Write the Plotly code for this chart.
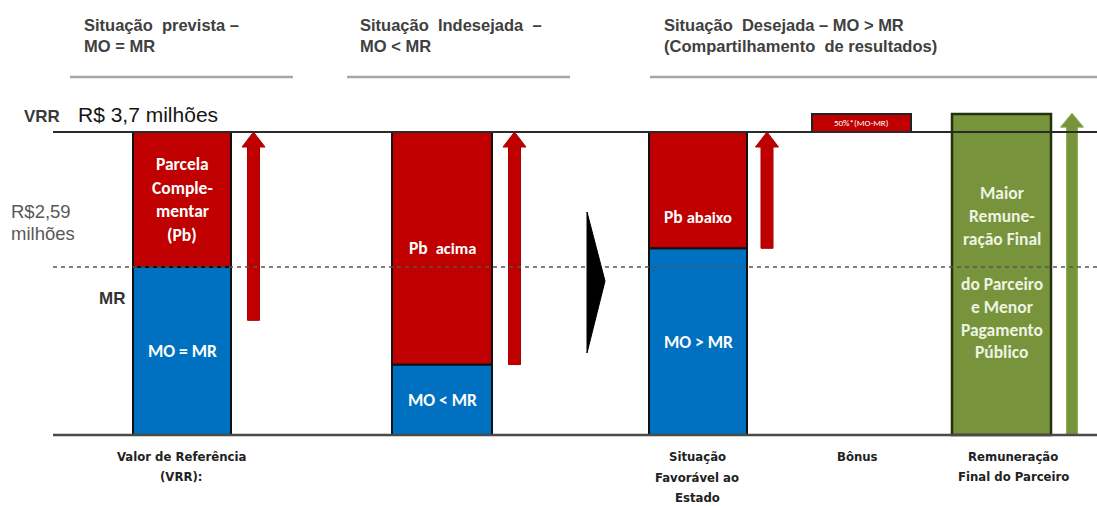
import plotly.graph_objects as go

# ---- values (R$ milhões) ----
vrr_value = 3.7                      # Valor de Referência (VRR)
mr_level = 2.05                      # nível MR (linha tracejada)
mr_label_value = 2.59
mo_values = [2.05, 0.86, 2.28]       # parcela MO (azul)
pb_values = [1.65, 2.84, 1.42]       # parcela complementar Pb (vermelho)
bonus_value = 0.22
final_value = 3.92                   # remuneração final do parceiro
red_arrow_start = [1.40, 0.86, 2.28]
green_arrow_top = 3.93

mo_labels = ["MO = MR", "MO < MR", "MO > MR"]
pb_labels = [
    ["Parcela", "Comple-", "mentar", "(Pb)"],
    ["Pb&nbsp; <span style='font-size:16.5px'>acima</span>"],
    ["Pb <span style='font-size:16.5px'>abaixo</span>"],
]
final_label = ["Maior", "Remune-", "ração Final", "", "do Parceiro", "e Menor", "Pagamento", "Público"]
bottom_labels = [
    ["Valor de Referência", "(VRR):"],
    [],
    ["Situação", "Favorável ao", "Estado"],
    ["Bônus"],
    ["Remuneração", "Final do Parceiro"],
]
headers = [
    ["Situação&nbsp; prevista –", "MO = MR"],
    ["Situação&nbsp; Indesejada&nbsp; –", "MO < MR"],
    ["Situação&nbsp; Desejada – MO > MR", "(Compartilhamento&nbsp; de resultados)"],
]

# ---- geometry ----
W, H = 1097, 506
BASE_PX, VRR_PX = 435, 132
upp = vrr_value / (BASE_PX - VRR_PX)          # data units per pixel
y_range = [-(H - BASE_PX) * upp, vrr_value + VRR_PX * upp]

bar_x = [182, 442, 698, 861.5, 1001.5]
bar_w = [98, 100, 98, 99, 99]
arrow_x = [253.5, 514.5, 767]
green_arrow_x = 1072
header_x = [82, 358, 662]
bottom_x = [181, 442, 697, 857, 1013]

RED, BLUE, GREEN = "#C00000", "#0070C0", "#77933C"
BAR_FONT = "Carlito, Lato, 'Open Sans', sans-serif"
HEAD_FONT = "'Liberation Sans', Arial, sans-serif"
NARROW_FONT = "'Liberation Sans Narrow', 'Arial Narrow', 'DejaVu Sans Condensed', sans-serif"


def py(px):
    return 1 - px / H


fig = go.Figure()

fig.add_trace(go.Bar(
    x=bar_x[:3], y=mo_values, base=[0, 0, 0], width=bar_w[:3],
    marker=dict(color=BLUE, line=dict(color="#111", width=2)), hoverinfo="skip"))
fig.add_trace(go.Bar(
    x=bar_x[:3], y=pb_values, base=mo_values, width=bar_w[:3],
    marker=dict(color=RED, line=dict(color="#111", width=2)), hoverinfo="skip"))
fig.add_trace(go.Bar(
    x=[bar_x[3]], y=[bonus_value], base=[vrr_value], width=[bar_w[3]],
    marker=dict(color=RED, line=dict(color="#222", width=2)), hoverinfo="skip"))
fig.add_trace(go.Bar(
    x=[bar_x[4]], y=[final_value], base=[0], width=[bar_w[4]],
    marker=dict(color=GREEN, line=dict(color="#26300f", width=2.5)), hoverinfo="skip"))


def arrow_path(xc, y0, y1, shaft_px, head_w_px, head_h_px):
    hs, hw, hh = shaft_px / 2, head_w_px / 2, head_h_px * upp
    return (f"M {xc - hs},{y0} L {xc + hs},{y0} L {xc + hs},{y1 - hh} "
            f"L {xc + hw},{y1 - hh} L {xc},{y1} L {xc - hw},{y1 - hh} "
            f"L {xc - hs},{y1 - hh} Z")


shapes = []
for xc, y0 in zip(arrow_x, red_arrow_start):
    shapes.append(dict(type="path", xref="x", yref="y", layer="above",
                       path=arrow_path(xc, y0, vrr_value, 12, 23, 15),
                       fillcolor=RED, line=dict(color="#a80000", width=1)))
shapes.append(dict(type="path", xref="x", yref="y", layer="above",
                   path=arrow_path(green_arrow_x, 0, green_arrow_top, 11, 23, 14),
                   fillcolor=GREEN, line=dict(color="#8fae55", width=1)))

# reference lines
shapes.append(dict(type="line", xref="x", yref="y", layer="above",
                   x0=53, x1=W, y0=vrr_value, y1=vrr_value,
                   line=dict(color="#2a2a2a", width=2)))
shapes.append(dict(type="line", xref="x", yref="y", layer="above",
                   x0=53, x1=W, y0=0, y1=0,
                   line=dict(color="#4a4a4a", width=2.5)))
shapes.append(dict(type="line", xref="x", yref="y", layer="above",
                   x0=53, x1=W, y0=mr_level, y1=mr_level,
                   line=dict(color="#555", width=1.5, dash="4px,4px")))

# header rules
for x0, x1 in [(70, 293), (347, 570), (650, W)]:
    shapes.append(dict(type="line", xref="x", yref="paper", x0=x0, x1=x1,
                       y0=py(77), y1=py(77), line=dict(color="#A6A6A6", width=2.5)))

# transition marker
shapes.append(dict(type="path", xref="x", yref="paper", layer="above",
                   path=f"M 587,{py(212)} L 605,{py(281)} L 587,{py(353)} Z",
                   fillcolor="#000", line=dict(color="#000", width=1)))

ann = []


def text_px(lines, x, y_center, size, color, family, bold=False,
            spacing=22, xanchor="center"):
    n = len(lines)
    for i, t in enumerate(lines):
        if not t:
            continue
        yc = y_center + (i - (n - 1) / 2) * spacing
        ann.append(dict(text=f"<b>{t}</b>" if bold else t, x=x, y=py(yc),
                        xref="x", yref="paper", xanchor=xanchor, yanchor="middle",
                        showarrow=False, font=dict(size=size, color=color, family=family)))


def text_data(lines, x, y_val, size, color, family, bold=True, spacing=22.5,
              xanchor="center"):
    text_px(lines, x, BASE_PX - y_val / upp, size, color, family, bold, spacing, xanchor)


# headers
for hx, lines in zip(header_x, headers):
    text_px(lines, hx, 35.5, 16.5, "#404040", HEAD_FONT, bold=True, spacing=21, xanchor="left")

# left-side labels
text_px(["VRR"], 22, 116, 17, "#3a3a3a", HEAD_FONT, bold=True, xanchor="left")
text_px(["R$ 3,7 milhões"], 76, 114, 21, "#151515", HEAD_FONT, xanchor="left")
text_data(["R$2,59", "milhões"], 9, mr_label_value, 18.5, "#595959", HEAD_FONT,
          bold=False, spacing=22, xanchor="left")
text_px(["MR"], 97, 298, 17, "#333", HEAD_FONT, bold=True, xanchor="left")

# bar labels
for i in range(3):
    text_data([mo_labels[i]], bar_x[i], mo_values[i] / 2, 17.5, "#ffffff", BAR_FONT)
pb_frac = [0.5, 0.5, 0.27]
for i in range(3):
    text_data(pb_labels[i], bar_x[i], mo_values[i] + pb_values[i] * pb_frac[i],
              17.5, "#ffffff", BAR_FONT, spacing=23.5)
text_data(["50%*(MO-MR)"], bar_x[3], vrr_value + bonus_value / 2, 9, "#ffffff", BAR_FONT, bold=False)
text_data(final_label, bar_x[4], final_value / 2 + 0.02, 17.5, "#EEF3E2", BAR_FONT, spacing=22.7)

# bottom labels
for bx, lines in zip(bottom_x, bottom_labels):
    if lines:
        text_px(lines, bx, 456 + (len(lines) - 1) * 10.5, 13, "#222", NARROW_FONT,
                bold=True, spacing=20.5)

fig.update_layout(
    width=W, height=H, margin=dict(l=0, r=0, t=0, b=0),
    paper_bgcolor="white", plot_bgcolor="white",
    barmode="overlay", showlegend=False,
    xaxis=dict(range=[0, W], visible=False, fixedrange=True),
    yaxis=dict(range=y_range, visible=False, fixedrange=True),
    shapes=shapes, annotations=ann,
)

fig.write_html("out.html")
